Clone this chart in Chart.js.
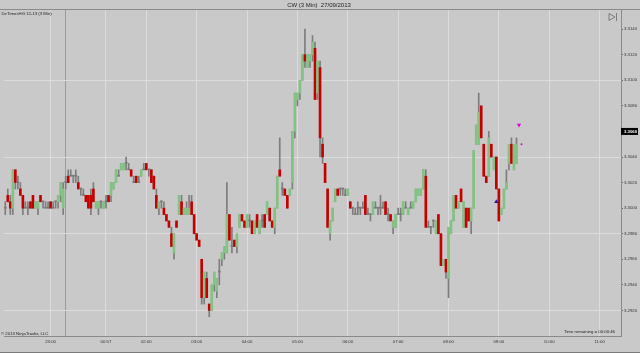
<!DOCTYPE html>
<html><head><meta charset="utf-8">
<style>html,body{margin:0;padding:0;background:#c9c9c9;overflow:hidden}#wrap{width:640px;height:353px}</style>
<script src="https://cdn.jsdelivr.net/npm/chart.js@4.4.0/dist/chart.umd.min.js"></script>
</head><body><div id="wrap"><canvas id="c" width="640" height="353"></canvas></div>
<script>
// ---- data (3-minute bars) ----
const open=[
3.3000,3.3010,3.3005,3.3000,3.3030,3.3020,3.3015,3.3010,3.3000,3.3000,
3.3005,3.3010,3.3000,3.3000,3.3010,3.3005,3.3000,3.3000,3.3005,3.3000,
3.3005,3.3005,3.3010,3.3000,3.3020,3.3025,3.3025,3.3025,3.3025,3.3020,
3.3015,3.3010,3.3010,3.3010,3.3010,3.3015,3.3000,3.3000,3.3005,3.3000,
3.3005,3.3010,3.3010,3.3015,3.3020,3.3025,3.3030,3.3030,3.3035,3.3030,
3.3030,3.3020,3.3025,3.3020,3.3025,3.3030,3.3035,3.3030,3.3030,3.3025,
3.3010,3.3000,3.3005,3.3000,3.2995,3.2990,3.2980,3.2965,3.2990,3.2995,
3.3005,3.2995,3.2995,3.2995,3.3005,3.2995,3.2980,3.2975,3.2960,3.2930,
3.2945,3.2925,3.2920,3.2940,3.2935,3.2950,3.2960,3.2965,3.2965,3.2995,
3.2970,3.2975,3.2970,3.2985,3.2995,3.2990,3.2985,3.2990,3.2990,3.2980,
3.2995,3.2980,3.2990,3.2995,3.2995,3.3000,3.2990,3.2985,3.3000,3.3030,
3.3015,3.3015,3.3010,3.3010,3.3020,3.3060,3.3085,3.3090,3.3100,3.3120,
3.3110,3.3115,3.3120,3.3125,3.3090,3.3110,3.3050,3.3035,3.3015,3.2980,
3.2990,3.3005,3.3015,3.3015,3.3015,3.3010,3.3010,3.3005,3.3000,3.2995,
3.3000,3.3000,3.3000,3.3010,3.2995,3.2995,3.2995,3.3000,3.3000,3.3000,
3.3000,3.3005,3.2995,3.2995,3.2985,3.2985,3.2995,3.2995,3.2995,3.3000,
3.2995,3.3000,3.3000,3.3005,3.3010,3.3010,3.3015,3.3025,3.2985,3.2985,
3.2990,3.2980,3.2995,3.2980,3.2955,3.2960,3.2945,3.2980,3.2990,3.3010,
3.3000,3.3015,3.2985,3.3000,3.3000,3.2990,3.3000,3.3050,3.3050,3.3080,
3.3050,3.3025,3.3025,3.3050,3.3030,3.3040,3.3015,3.2995,3.3000,3.3015,
3.3035,3.3050,3.3030,3.3035];
const high=[
3.3005,3.3015,3.3010,3.3030,3.3030,3.3025,3.3020,3.3010,3.3005,3.3005,
3.3005,3.3010,3.3005,3.3005,3.3010,3.3005,3.3005,3.3005,3.3005,3.3005,
3.3005,3.3010,3.3020,3.3020,3.3025,3.3030,3.3030,3.3025,3.3030,3.3025,
3.3015,3.3015,3.3010,3.3010,3.3015,3.3020,3.3005,3.3005,3.3005,3.3005,
3.3010,3.3010,3.3020,3.3020,3.3030,3.3030,3.3035,3.3035,3.3040,3.3035,
3.3030,3.3025,3.3025,3.3025,3.3030,3.3035,3.3035,3.3030,3.3030,3.3025,
3.3015,3.3005,3.3005,3.3005,3.2995,3.2990,3.2985,3.2980,3.2990,3.3010,
3.3010,3.3000,3.3005,3.3010,3.3010,3.2995,3.2980,3.2975,3.2960,3.2950,
3.2950,3.2925,3.2940,3.2950,3.2945,3.2960,3.2965,3.2970,3.3020,3.2995,
3.2985,3.2975,3.2980,3.2995,3.2995,3.2990,3.2995,3.2995,3.2990,3.2990,
3.2995,3.2990,3.2995,3.2995,3.3005,3.3000,3.2990,3.3000,3.3025,3.3055,
3.3020,3.3015,3.3010,3.3015,3.3060,3.3090,3.3090,3.3100,3.3120,3.3140,
3.3120,3.3120,3.3135,3.3130,3.3115,3.3115,3.3055,3.3035,3.3015,3.2990,
3.3000,3.3015,3.3015,3.3015,3.3015,3.3015,3.3015,3.3005,3.3000,3.3000,
3.3005,3.3000,3.3005,3.3010,3.3000,3.2995,3.3005,3.3005,3.3000,3.3010,
3.3005,3.3005,3.3000,3.2995,3.2990,3.2995,3.3000,3.3000,3.3005,3.3005,
3.3000,3.3005,3.3005,3.3015,3.3015,3.3015,3.3030,3.3030,3.2990,3.2985,
3.2990,3.2990,3.2995,3.2980,3.2960,3.2960,3.2985,3.2990,3.3010,3.3010,
3.3005,3.3015,3.3005,3.3000,3.3000,3.3000,3.3045,3.3065,3.3090,3.3080,
3.3050,3.3025,3.3060,3.3050,3.3040,3.3040,3.3015,3.3000,3.3015,3.3030,
3.3050,3.3055,3.3050,3.3055];
const low=[
3.2995,3.3005,3.2995,3.2995,3.3015,3.3015,3.3010,3.2995,3.3000,3.2995,
3.3000,3.3000,3.3000,3.2995,3.3005,3.3000,3.3000,3.3000,3.3000,3.3000,
3.3000,3.3000,3.3005,3.2995,3.3015,3.3020,3.3025,3.3020,3.3020,3.3015,
3.3010,3.3010,3.3005,3.3000,3.2995,3.3005,3.3000,3.2995,3.3000,3.3000,
3.3000,3.3005,3.3005,3.3015,3.3020,3.3025,3.3030,3.3030,3.3030,3.3030,
3.3025,3.3020,3.3020,3.3020,3.3025,3.3030,3.3030,3.3025,3.3020,3.3015,
3.3000,3.2995,3.3000,3.2995,3.2990,3.2985,3.2970,3.2960,3.2985,3.2995,
3.2995,3.2995,3.2995,3.2995,3.2995,3.2980,3.2975,3.2970,3.2925,3.2925,
3.2930,3.2915,3.2920,3.2935,3.2930,3.2940,3.2955,3.2960,3.2965,3.2975,
3.2965,3.2970,3.2965,3.2985,3.2990,3.2985,3.2985,3.2985,3.2980,3.2980,
3.2985,3.2980,3.2985,3.2985,3.2995,3.2990,3.2985,3.2980,3.3000,3.3025,
3.3010,3.3010,3.3000,3.3010,3.3015,3.3055,3.3080,3.3085,3.3100,3.3110,
3.3110,3.3110,3.3115,3.3085,3.3085,3.3040,3.3035,3.3020,3.2985,3.2975,
3.2990,3.3005,3.3010,3.3010,3.3010,3.3010,3.3010,3.3000,3.2995,3.2995,
3.2995,3.2995,3.3000,3.2995,3.2995,3.2990,3.2995,3.3000,3.2995,3.2995,
3.3000,3.2995,3.2990,3.2990,3.2980,3.2985,3.2995,3.2990,3.2995,3.3000,
3.2995,3.3000,3.3000,3.3005,3.3010,3.3010,3.3015,3.2985,3.2985,3.2980,
3.2985,3.2980,3.2980,3.2955,3.2955,3.2945,3.2930,3.2980,3.2990,3.3000,
3.3000,3.3005,3.2985,3.2985,3.2990,3.2980,3.3000,3.3050,3.3050,3.3055,
3.3025,3.3020,3.3025,3.3040,3.3030,3.3015,3.2990,3.2995,3.3000,3.3015,
3.3030,3.3035,3.3030,3.3035];
const close=[
3.3000,3.3005,3.3000,3.3030,3.3020,3.3020,3.3010,3.3000,3.3000,3.3000,
3.3000,3.3000,3.3005,3.3005,3.3005,3.3005,3.3000,3.3000,3.3000,3.3000,
3.3005,3.3010,3.3020,3.3015,3.3020,3.3020,3.3025,3.3025,3.3025,3.3015,
3.3015,3.3010,3.3005,3.3000,3.3000,3.3005,3.3005,3.3005,3.3005,3.3005,
3.3005,3.3005,3.3020,3.3020,3.3030,3.3025,3.3035,3.3035,3.3035,3.3030,
3.3025,3.3020,3.3020,3.3020,3.3030,3.3030,3.3030,3.3030,3.3020,3.3015,
3.3000,3.3005,3.3005,3.2995,3.2990,3.2985,3.2970,3.2980,3.2985,3.3010,
3.2995,3.3000,3.3000,3.3000,3.2995,3.2980,3.2975,3.2970,3.2930,3.2950,
3.2930,3.2920,3.2940,3.2950,3.2945,3.2950,3.2965,3.2970,3.2995,3.2975,
3.2970,3.2970,3.2980,3.2995,3.2990,3.2985,3.2995,3.2990,3.2980,3.2990,
3.2985,3.2990,3.2990,3.2985,3.3005,3.2990,3.2985,3.3000,3.3025,3.3025,
3.3015,3.3010,3.3000,3.3015,3.3060,3.3090,3.3090,3.3100,3.3120,3.3115,
3.3120,3.3120,3.3130,3.3085,3.3115,3.3055,3.3040,3.3020,3.2985,3.2990,
3.3000,3.3015,3.3010,3.3015,3.3015,3.3010,3.3015,3.3000,3.3000,3.2995,
3.3000,3.3000,3.3000,3.2995,3.2995,3.2995,3.3005,3.3000,3.3000,3.3000,
3.3000,3.2995,3.2995,3.2990,3.2990,3.2995,3.2995,3.2995,3.3005,3.3000,
3.3000,3.3000,3.3005,3.3015,3.3015,3.3015,3.3030,3.2985,3.2985,3.2985,
3.2990,3.2990,3.2980,3.2955,3.2960,3.2950,3.2985,3.2990,3.3010,3.3000,
3.3005,3.3005,3.3005,3.2985,3.2990,3.3000,3.3045,3.3065,3.3075,3.3055,
3.3025,3.3020,3.3055,3.3040,3.3040,3.3015,3.2990,3.3000,3.3015,3.3020,
3.3050,3.3035,3.3050,3.3050];

const slotCount = 245; // bar slots shown on the time axis (incl. empty future space)
const tickIndex = [18,40,56,76,96,116,136,156,176,196,216,236];
const tickText  = ['23:00','00:57','02:00','03:00','04:00','05:00','06:00','07:00','08:00','09:00','10:00','11:00'];
const sessionBreakIndex = [24];
const yTicks = [3.2920,3.2940,3.2960,3.2980,3.3000,3.3020,3.3040,3.3060,3.3080,3.3100,3.3120,3.3140];
const upArrowIdx = [195],  upArrowPrice = [3.3005];
const downArrowIdx = [204], downArrowPrice = [3.3065];
const dotIdx = [205], dotPrice = [3.3050];
const lastPrice = 3.3060;
const titleText = 'CW (3 Min)  27/09/2013';
const instrumentText = 'DeTimesHG 12-13 (3 Min)';
const copyrightText = '\u00A9 2013 NinjaTrader, LLC';
const timeRemainingText = 'Time remaining = 00:00:46';

// ---- build chart ----
const FONT = '"Liberation Sans", Arial, sans-serif';
const BG = '#c9c9c9';
const labels = Array.from({length: slotCount}, (_, i) => String(i));
const bodies = open.map((o, i) => [o, close[i]]);
const wicks = high.map((h, i) => [low[i], h]);
const bodyColors = open.map((o, i) => close[i] > o ? '#84c284' : (close[i] < o ? '#c40000' : '#7a7a7a'));
const sparse = (idx, vals) => labels.map((_, i) => { const k = idx.indexOf(i); return k >= 0 ? vals[k] : null; });

const deco = {
  id: 'deco',
  beforeDraw(chart) {
    const c = chart.ctx; c.save(); c.fillStyle = BG; c.fillRect(0, 0, chart.width, chart.height); c.restore();
  },
  afterDraw(chart) {
    const c = chart.ctx, a = chart.chartArea, ys = chart.scales.y;
    c.save();
    c.strokeStyle = '#8a8a8a'; c.lineWidth = 1;
    c.beginPath(); c.moveTo(0, a.top - 0.5); c.lineTo(640, a.top - 0.5); c.stroke();
    c.strokeStyle = '#7a7a7a';
    c.beginPath(); c.moveTo(0, 352.5); c.lineTo(640, 352.5); c.stroke();
    // title
    c.fillStyle = '#222'; c.font = '6px ' + FONT; c.textAlign = 'center'; c.textBaseline = 'middle';
    c.fillText(titleText, 319, 5);
    // small texts
    c.font = '4.3px ' + FONT; c.textAlign = 'left'; c.fillStyle = '#222';
    c.fillText(instrumentText, 1.5, 14);
    c.fillText(copyrightText, 1, 334);
    c.textAlign = 'right';
    c.fillText(timeRemainingText, 615, 332);
    // ">|" icon
    c.strokeStyle = '#6a6a6a'; c.lineWidth = 0.8;
    c.beginPath(); c.moveTo(609, 13.5); c.lineTo(615, 17); c.lineTo(609, 20.5); c.closePath(); c.stroke();
    c.beginPath(); c.moveTo(616.5, 13); c.lineTo(616.5, 21); c.stroke();
    // last price tag
    const py = ys.getPixelForValue(lastPrice);
    c.fillStyle = '#000'; c.fillRect(621, py - 3.5, 17, 7);
    c.fillStyle = '#fff'; c.font = 'bold 4.3px ' + FONT; c.textAlign = 'left';
    c.fillText(lastPrice.toFixed(4), 624, py);
    c.restore();
  }
};

new Chart(document.getElementById('c'), {
  data: {
    labels,
    datasets: [
      { type: 'bar', data: wicks, backgroundColor: '#7d7d7d', barThickness: 1, minBarLength: 1, grouped: false, order: 3 },
      { type: 'bar', data: bodies, backgroundColor: bodyColors, barThickness: 2, minBarLength: 1, grouped: false, order: 2 },
      { type: 'line', data: sparse(upArrowIdx, upArrowPrice), showLine: false, pointStyle: 'triangle', pointRadius: 2.5, pointBackgroundColor: '#1a1aa8', pointBorderColor: '#1a1aa8', pointBorderWidth: 0, order: 1 },
      { type: 'line', data: sparse(downArrowIdx, downArrowPrice), showLine: false, pointStyle: 'triangle', pointRotation: 180, pointRadius: 2.5, pointBackgroundColor: '#e000e0', pointBorderColor: '#e000e0', pointBorderWidth: 0, order: 1 },
      { type: 'line', data: sparse(dotIdx, dotPrice), showLine: false, pointStyle: 'circle', pointRadius: 1, pointBackgroundColor: '#e000e0', pointBorderWidth: 0, order: 1 }
    ]
  },
  options: {
    responsive: false, animation: false, devicePixelRatio: 1,
    layout: { padding: { top: 10, left: 0, right: 0, bottom: 0 } },
    plugins: { legend: { display: false }, tooltip: { enabled: false }, title: { display: false } },
    scales: {
      x: {
        type: 'category', offset: true,
        grid: { offset: false, drawTicks: false, lineWidth: 1,
          color: (ctx) => sessionBreakIndex.includes(ctx.index) ? '#9a9a9a' : (tickIndex.includes(ctx.index) ? '#dcdcdc' : 'rgba(0,0,0,0)') },
        border: { color: '#8a8a8a' },
        ticks: { autoSkip: false, maxRotation: 0, minRotation: 0, padding: 3, color: '#333',
          font: { size: 4.3, family: FONT },
          callback: (v, i) => { const k = tickIndex.indexOf(i); return k >= 0 ? tickText[k] : ''; } },
        afterFit: (s) => { s.height = 17; }
      },
      y: {
        type: 'linear', position: 'right', min: 3.2900, max: 3.3155,
        afterBuildTicks: (s) => { s.ticks = yTicks.map(v => ({ value: v })); },
        grid: { tickLength: 2, tickColor: '#666',
          color: (ctx) => { const v = ctx.tick ? ctx.tick.value : 0; return Math.round((v - 3.2920) / 0.002) % 3 === 0 ? '#dcdcdc' : 'rgba(0,0,0,0)'; } },
        border: { color: '#8a8a8a' },
        ticks: { padding: 1, color: '#333', font: { size: 4.3, family: FONT }, callback: (v) => Number(v).toFixed(4) },
        afterFit: (s) => { s.width = 19; }
      }
    }
  },
  plugins: [deco]
});
</script>
</body></html>
